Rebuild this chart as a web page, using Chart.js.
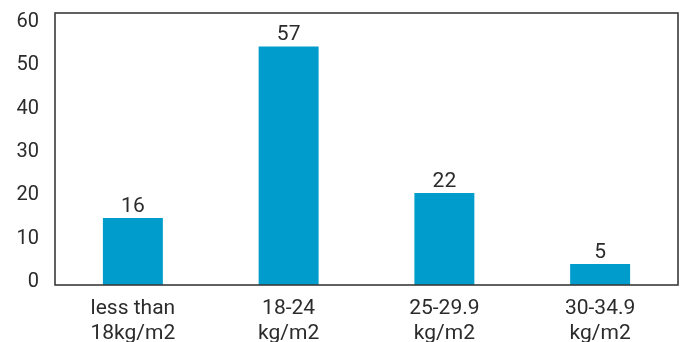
<!DOCTYPE html>
<html>
<head>
<meta charset="utf-8">
<script src="https://cdn.jsdelivr.net/npm/chart.js@4/dist/chart.umd.min.js"></script>
<style>
  html, body { margin: 0; padding: 0; background: #fff; }
  #wrap { width: 684px; height: 342px; }
</style>
</head>
<body>
<div id="wrap"><canvas id="bmi-chart"></canvas></div>
<script>
const categories = [
  ["less than", "18kg/m2"],
  ["18-24", "kg/m2"],
  ["25-29.9", "kg/m2"],
  ["30-34.9", "kg/m2"],
];
const shares = [16, 57, 22, 5];
const yTicks = [0, 10, 20, 30, 40, 50, 60];

const FONT = "Roboto, sans-serif";
const TEXT = "#2b2b2b";

// frame round the plot area
const framePlugin = {
  id: "frame",
  afterDraw(chart) {
    const { ctx, chartArea: a } = chart;
    ctx.save();
    ctx.strokeStyle = "#3a3a3a";
    ctx.lineWidth = 1.6;
    ctx.strokeRect(a.left, a.top, a.right - a.left, a.bottom - a.top);
    ctx.restore();
  },
};

// value labels above the bars
const valueLabels = {
  id: "valueLabels",
  afterDatasetsDraw(chart) {
    const { ctx } = chart;
    const meta = chart.getDatasetMeta(0);
    ctx.save();
    ctx.font = "21px " + FONT;
    ctx.fillStyle = TEXT;
    ctx.textAlign = "center";
    ctx.textBaseline = "alphabetic";
    meta.data.forEach((bar, i) => {
      ctx.fillText(String(shares[i]), bar.x, bar.y - 6);
    });
    ctx.restore();
  },
};

new Chart(document.getElementById("bmi-chart"), {
  type: "bar",
  data: {
    labels: categories,
    datasets: [
      {
        data: shares,
        backgroundColor: "#009ccb",
        borderWidth: 0,
        barPercentage: 0.385,
        categoryPercentage: 1,
        yAxisID: "yBar",
      },
    ],
  },
  options: {
    responsive: true,
    maintainAspectRatio: false,
    animation: false,
    layout: { padding: { top: 13, right: 6, left: 0, bottom: 0 } },
    plugins: {
      legend: { display: false },
      tooltip: { enabled: false },
    },
    scales: {
      x: {
        grid: { display: false, drawTicks: false },
        border: { display: false },
        ticks: {
          color: TEXT,
          padding: 11,
          maxRotation: 0,
          font: { size: 21, family: FONT, lineHeight: 1.2 },
        },
        afterFit(axis) {
          axis.height = 57;
        },
      },
      y: {
        position: "left",
        min: -0.7,
        max: 62.1,
        grid: { display: false, drawTicks: false },
        border: { display: false },
        ticks: {
          color: TEXT,
          padding: 16,
          font: { size: 20, family: FONT },
        },
        afterBuildTicks(axis) {
          axis.ticks = yTicks.map((v) => ({ value: v }));
        },
        afterFit(axis) {
          axis.width = 55;
          axis.paddingTop = 0;
          axis.paddingBottom = 0;
        },
      },
      yBar: {
        display: false,
        min: 0,
        max: 65,
      },
    },
  },
  plugins: [framePlugin, valueLabels],
});
</script>
</body>
</html>
